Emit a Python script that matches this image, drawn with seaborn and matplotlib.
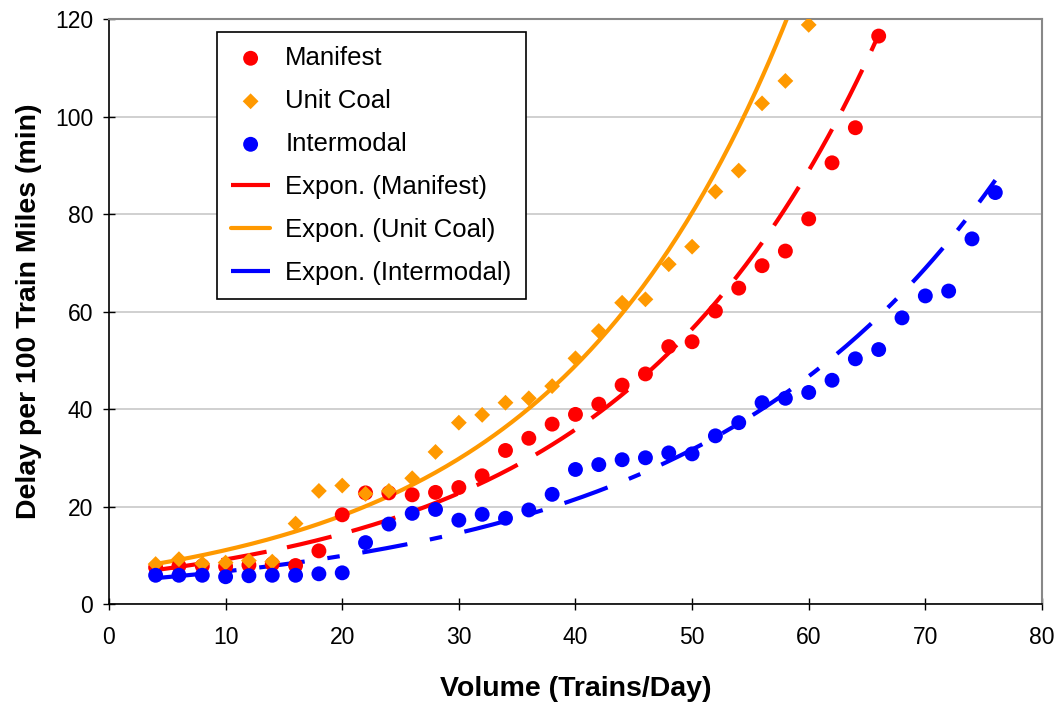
import matplotlib
matplotlib.use("Agg")
import matplotlib.pyplot as plt
import numpy as np
import pandas as pd
import seaborn as sns

# data
manifest_x = list(range(4, 67, 2))
manifest_y = [7.5, 7.8, 7.8, 7.7, 8.0, 8.2, 7.9, 10.9, 18.3, 22.8, 22.8, 22.4, 22.9, 23.9, 26.3, 31.5,
              34.0, 36.9, 38.9, 41.0, 44.9, 47.2, 52.8, 53.8, 60.1, 64.8, 69.4, 72.4, 79.0, 90.5, 97.7, 116.5]

coal_x = list(range(4, 61, 2))
coal_y = [8.2, 9.2, 8.3, 8.5, 8.9, 8.7, 16.5, 23.2, 24.3, 22.6, 23.2, 25.8, 31.2, 37.2, 38.8, 41.3,
          42.2, 44.7, 50.4, 56.0, 61.8, 62.5, 69.7, 73.3, 84.6, 88.9, 102.7, 107.3, 118.8]

inter_x = list(range(4, 77, 2))
inter_y = [5.9, 5.9, 5.9, 5.6, 5.8, 5.9, 5.9, 6.2, 6.4, 12.6, 16.4, 18.6, 19.4, 17.2, 18.4, 17.6,
           19.3, 22.5, 27.6, 28.6, 29.6, 30.0, 31.0, 30.8, 34.5, 37.2, 41.3, 42.2, 43.4, 45.9,
           50.3, 52.2, 58.7, 63.2, 64.2, 74.9, 84.4]

series_names = ["Manifest", "Unit Coal", "Intermodal"]
colors = {"Manifest": "#FF0000", "Unit Coal": "#FF9900", "Intermodal": "#0000FF"}

sns.set_style("white")
plt.rcParams["font.family"] = ["Liberation Sans", "DejaVu Sans"]
plt.rcParams["text.color"] = "black"
plt.rcParams["axes.labelcolor"] = "black"
plt.rcParams["xtick.color"] = "black"
plt.rcParams["ytick.color"] = "black"

fig = plt.figure(figsize=(10.56, 7.04), dpi=100)
ax = fig.add_axes([0.1032, 0.142, 0.8835, 0.831])

df = pd.concat([
    pd.DataFrame({"x": manifest_x, "y": manifest_y, "series": "Manifest"}),
    pd.DataFrame({"x": coal_x, "y": coal_y, "series": "Unit Coal"}),
    pd.DataFrame({"x": inter_x, "y": inter_y, "series": "Intermodal"}),
])

# exponential trendlines (Excel style: fit ln y against x)
trend_parts = []
for name in series_names:
    d = df[df.series == name]
    b, a = np.polyfit(d.x, np.log(d.y), 1)
    xs = np.linspace(d.x.min(), d.x.max(), 300)
    trend_parts.append(pd.DataFrame({"x": xs, "y": np.exp(a + b * xs), "series": "Expon. (" + name + ")"}))
trend = pd.concat(trend_parts)

ax.yaxis.grid(True, color="#C8C8C8", linewidth=1.2)
ax.set_axisbelow(True)

dash_styles = {
    "Expon. (Manifest)": (0, (11, 5)),
    "Expon. (Unit Coal)": "-",
    "Expon. (Intermodal)": (0, (11, 5.5, 3, 5.5)),
}
for name in series_names:
    tname = "Expon. (" + name + ")"
    sns.lineplot(data=trend[trend.series == tname], x="x", y="y", ax=ax, color=colors[name],
                 linewidth=3, linestyle=dash_styles[tname], label=tname, zorder=2)

markers = {"Manifest": "o", "Unit Coal": "D", "Intermodal": "o"}
sizes = {"Manifest": 115, "Unit Coal": 65, "Intermodal": 115}
for name in series_names:
    sns.scatterplot(data=df[df.series == name], x="x", y="y", ax=ax, color=colors[name],
                    marker=markers[name], s=sizes[name], edgecolor="none", label=name, zorder=3)

ax.set_xlim(0, 80)
ax.set_ylim(0, 120)
ax.set_xticks(range(0, 81, 10))
ax.set_yticks(range(0, 121, 20))
ax.tick_params(axis="both", direction="inout", length=9, width=1, color="black",
               labelsize=16.5, bottom=True, left=True)
ax.tick_params(axis="x", pad=11)
ax.tick_params(axis="y", pad=7)

for side in ["left", "bottom"]:
    ax.spines[side].set_color("black")
    ax.spines[side].set_linewidth(1.2)
for side in ["top", "right"]:
    ax.spines[side].set_color("#888888")
    ax.spines[side].set_linewidth(1.5)

ax.set_xlabel("Volume (Trains/Day)", fontsize=20.5, fontweight="bold", labelpad=20)
ax.set_ylabel("Delay per 100 Train Miles (min)", fontsize=20.5, fontweight="bold", labelpad=9)

handles, labels = ax.get_legend_handles_labels()
order = ["Manifest", "Unit Coal", "Intermodal", "Expon. (Manifest)", "Expon. (Unit Coal)", "Expon. (Intermodal)"]
hmap = dict(zip(labels, handles))
leg = ax.legend([hmap[k] for k in order], order, loc="upper left", bbox_to_anchor=(0.116, 0.978),
                fontsize=18.5, frameon=True, fancybox=False, edgecolor="black", framealpha=1,
                labelspacing=0.74, handlelength=1.5, handletextpad=0.6, borderpad=0.55, borderaxespad=0)
leg.get_frame().set_linewidth(1.2)

fig.savefig("out.png", dpi=100)
